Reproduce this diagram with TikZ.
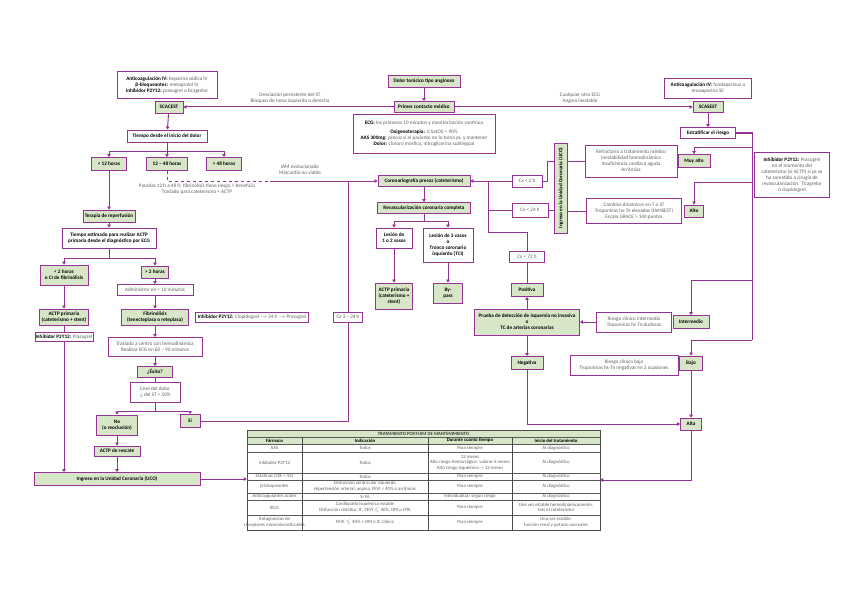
\documentclass[tikz,border=0pt]{standalone}
\usepackage{fontspec}
\setmainfont{Carlito}
\usetikzlibrary{arrows.meta}
\definecolor{plin}{RGB}{150,50,150}
\definecolor{gfon}{RGB}{216,230,200}
\definecolor{gtxt}{RGB}{95,95,95}
\newcommand{\resalta}[1]{\textbf{\color{black}#1}}
\newcommand{\letra}{\fontsize{5.2}{6.0}\selectfont}
\newcommand{\letrat}{\fontsize{4.8}{5.6}\selectfont}
\tikzset{
	caja/.style={draw=plin,line width=.8pt,inner sep=.6pt,align=center},
	gbox/.style={caja,fill=gfon,font=\letra\bfseries},
	wbox/.style={caja,fill=white,text=gtxt},
	wboxb/.style={caja,fill=white,font=\letra\bfseries},
	linea/.style={draw=plin,line width=1pt},
	flecha/.style={linea,-{Triangle[length=3pt,width=3.6pt]}},
	nota/.style={text=gtxt,align=center,inner sep=0pt},
	celda/.style={text=gtxt,align=center,inner sep=0pt,font=\letrat},
}
\begin{document}
\begin{tikzpicture}[x=1pt,y=-1pt,font=\letra]
	\useasboundingbox (0,0) rectangle (848,599);
	% SCACEST
	\node[wbox,minimum width=100,minimum height=27] (acoI) at (167,85) {\resalta{Anticoagulación IV:} heparina sódica IV\\\resalta{β-bloqueantes:} metoprolol IV\\\resalta{Inhibidor P2Y12:} prasugrel o ticagrelor};
	\node[gbox,minimum width=28,minimum height=12] (scacest) at (169,107) {SCACEST};
	\node[wboxb,minimum width=80,minimum height=12] (tiempo) at (167,136) {Tiempo desde el inicio del dolor};
	\node[gbox,minimum width=35,minimum height=13] (h12) at (109,164) {< 12 horas};
	\node[gbox,minimum width=41,minimum height=13] (h1248) at (167,164) {12 – 48 horas};
	\node[gbox,minimum width=35,minimum height=13] (h48) at (224,164) {> 48 horas};
	\node[gbox,minimum width=52,minimum height=12] (reperf) at (109,216) {Terapia de reperfusión};
	\node[wboxb,minimum width=94,minimum height=20] (testim) at (109,238) {Tiempo estimado para realizar ACTP\\primaria desde el diagnóstico por ECG};
	\node[gbox,minimum width=48,minimum height=20] (lt2) at (64,275) {< 2 horas\\o CI de fibrinólisis};
	\node[gbox,minimum width=27,minimum height=12] (gt2) at (155,272) {> 2 horas};
	\node[gbox,minimum width=49,minimum height=16] (actp1) at (64,317) {ACTP primaria\\(cateterismo + stent)};
	\node[wbox,minimum width=58,minimum height=9] (p2yA) at (64,337) {\resalta{Inhibidor P2Y12:} Prasugrel};
	\node[wbox,minimum width=76,minimum height=11] (admin) at (155,290) {Administrar en < 10 minutos};
	\node[gbox,minimum width=67,minimum height=16] (fibri) at (155,317) {Fibrinólisis\\(tenecteplasa o reteplasa)};
	\node[wbox,minimum width=113,minimum height=10] (p2yB) at (252,317) {\resalta{Inhibidor P2Y12:} Clopidogrel $\rightarrow$ 24 h $\rightarrow$ Prasugrel};
	\node[wbox,minimum width=94,minimum height=19] (traslado) at (155,347) {Traslado a centro con hemodinámica\\Realizar ECG en 60 – 90 minutos};
	\node[gbox,minimum width=35,minimum height=11] (exito) at (155,372) {¿Éxito?};
	\node[wbox,minimum width=50,minimum height=20] (cese) at (155,392) {Cese del dolor\\$\downarrow$ del ST > 50\%};
	\node[gbox,minimum width=41,minimum height=20] (no) at (117,425) {No\\(o reoclusión)};
	\node[gbox,minimum width=20,minimum height=13] (si) at (190,421) {Sí};
	\node[gbox,minimum width=46,minimum height=10] (rescate) at (117,451) {ACTP de rescate};
	\node[gbox,minimum width=166,minimum height=13] (uco) at (117,479) {Ingreso en la Unidad Coronaria (UCO)};
	\node[wbox,minimum width=29,minimum height=10] (cx324) at (348,317) {Cx 3 – 24 h};
	% centro
	\node[gbox,minimum width=72,minimum height=12] (dolor) at (424,81) {Dolor torácico tipo anginoso};
	\node[gbox,minimum width=60,minimum height=11] (pcm) at (424,107) {Primer contacto médico};
	\node[wbox,minimum width=142,minimum height=39] (medidas) at (424,134) {\resalta{ECG:} los primeros 10 minutos y monitorización continua\\[3pt]\resalta{Oxigenoterapia:} si SatO2 < 90\%\\\resalta{AAS 300mg:} precoz si el paciente no lo toma ya, y mantener\\\resalta{Dolor:} cloruro mórfico, nitroglicerina sublingual};
	\node[gbox,minimum width=92,minimum height=11] (corop) at (424,181) {Coronariografía precoz (cateterismo)};
	\node[gbox,minimum width=93,minimum height=11] (revasc) at (424,208) {Revascularización coronaria completa};
	\node[wboxb,minimum width=36,minimum height=20] (les12) at (394,238) {Lesión de\\1 o 2 vasos};
	\node[wboxb,minimum width=50,minimum height=34] (les3) at (448,245) {Lesión de 3 vasos\\o\\Tronco coronario\\izquierdo (TCI)};
	\node[gbox,minimum width=37,minimum height=26] (actp2) at (394,296) {ACTP primaria\\(cateterismo +\\stent)};
	\node[gbox,minimum width=29,minimum height=20] (bypass) at (448,293) {By-\\pass};
	% SCASEST
	\node[wbox,minimum width=87,minimum height=20] (acoD) at (708,88) {\resalta{Anticoagulación IV:} fondaparinux o\\enoxaparina SC};
	\node[gbox,minimum width=30,minimum height=11] (scasest) at (708,107) {SCASEST};
	\node[wboxb,minimum width=55,minimum height=11] (estrat) at (708,133) {Estratificar el riesgo};
	\node[wbox,minimum width=75,minimum height=45] (p2yC) at (792,175) {\resalta{Inhibidor P2Y12:} Prasugrel\\en el momento del\\cateterismo (si ACTP) si ya se\\ha sometido a cirugía de\\revascularización. Ticagrelor\\o clopidogrel};
	\node[gbox,minimum width=32,minimum height=13] (muyalto) at (694,161) {Muy alto};
	\node[wbox,minimum width=92,minimum height=32] (refr) at (631,161) {Refractario a tratamiento médico\\Inestabilidad hemodinámica\\Insuficiencia cardíaca aguda\\Arritmias};
	\node[gbox,minimum width=13,minimum height=90] (ucov) at (561,188) {\rotatebox{90}{Ingreso en la Unidad Coronaria (UCO)}};
	\node[gbox,minimum width=19,minimum height=12] (alto) at (694,211) {Alto};
	\node[wbox,minimum width=95,minimum height=25] (critalto) at (634,211) {Cambios dinámicos en T o ST\\Troponinas hs-Tn elevadas (IAMSEST)\\Escala GRACE > 140 puntos};
	\node[wbox,minimum width=30,minimum height=12] (cx2) at (527,181) {Cx < 2 h};
	\node[wbox,minimum width=36,minimum height=14] (cx24) at (530,210) {Cx < 24 h};
	\node[wbox,minimum width=35,minimum height=11] (cx72) at (527,257) {Cx < 72 h};
	\node[gbox,minimum width=32,minimum height=13] (positiva) at (527,290) {Positiva};
	\node[gbox,minimum width=105,minimum height=26] (prueba) at (527,322) {Prueba de detección de isquemia no invasiva\\o\\TC de arterias coronarias};
	\node[gbox,minimum width=32,minimum height=13] (negativa) at (527,363) {Negativa};
	\node[gbox,minimum width=36,minimum height=13] (interm) at (691,322) {Intermedio};
	\node[wbox,minimum width=75,minimum height=20] (critint) at (634,322) {Riesgo clínico intermedio\\Troponinas hs-Tn dudosas};
	\node[gbox,minimum width=23,minimum height=14] (bajo) at (691,363) {Bajo};
	\node[wbox,minimum width=108,minimum height=20] (critbajo) at (624,365) {Riesgo clínico bajo\\Troponinas hs-Tn negativas en 2 ocasiones};
	\node[gbox,minimum width=21,minimum height=12] (alta) at (691,424) {Alta};
	% textos sobre las lineas
	\node[nota] (lbSTe) at (290,98) {Desviación persistente del ST\\Bloqueo de rama izquierda o derecha};
	\node[nota] (lbSTn) at (580,98) {Cualquier otro ECG\\Angina inestable};
	\node[nota] (lbIAM) at (300,170) {IAM evolucionado\\Miocardio no viable};
	\node[nota] (lbPas) at (197,189) {Pasadas 12 h a 48 h: fibrinólisis tiene riesgo > beneficio\\Traslado para cateterismo + ACTP};
	\path (167,151) coordinate (b1) (109,258) coordinate (b2) (155,411) coordinate (b3) (424,221) coordinate (b4)
		(270,181) coordinate (jD) (348,181) coordinate (jA) (488,181) coordinate (jB) (488,232) coordinate (jC)
		(752,133) coordinate (r0) (752,147) coordinate (r1) (752,182) coordinate (r2) (752,280) coordinate (r3) (752,340) coordinate (r4);
	% conectores
	\draw[flecha] (pcm) -- (scacest);
	\draw[flecha] (pcm) -- (scasest);
	\draw[flecha] (dolor) -- (pcm);
	\draw[flecha] (scacest) -- (tiempo);
	\draw[linea] (tiempo) -- (b1);
	\draw[flecha] (b1) -| (h12.north);
	\draw[flecha] (b1) -- (h1248.north);
	\draw[flecha] (b1) -| (h48.north);
	\draw[linea,dashed] (h1248.south) |- (jD);
	\draw[flecha] (jD) -- (corop);
	\draw[flecha] (h12) -- (reperf);
	\draw[flecha] (reperf) -- (testim);
	\draw[linea] (testim) -- (b2);
	\draw[flecha] (b2) -| (lt2.north);
	\draw[flecha] (b2) -| (gt2.north);
	\draw[flecha] (lt2) -- (actp1);
	\draw[linea] (actp1) -- (p2yA);
	\draw[flecha] (p2yA.south) -- (p2yA.south |- uco.north);
	\foreach \a/\b in {gt2/admin,admin/fibri,fibri/traslado,traslado/exito,no/rescate,rescate/uco}
		\draw[flecha] (\a) -- (\b);
	\draw[linea] (exito) -- (cese);
	\draw[linea] (cese) -- (b3);
	\draw[flecha] (b3) -| (no.north);
	\draw[flecha] (b3) -| (si.north);
	\draw[linea] (si) -| (cx324);
	\draw[linea] (cx324) -- (jA);
	\draw[flecha] (corop) -- (revasc);
	\draw[linea] (revasc) -- (b4);
	\draw[flecha] (b4) -| (les12.north);
	\draw[flecha] (b4) -| (les3.north);
	\draw[flecha] (les12) -- (actp2);
	\draw[flecha] (les3) -- (bypass);
	\draw[flecha] (scasest) -- (estrat);
	\draw[linea] (estrat) -- (r0) -- (r4);
	\draw[flecha] (r1) -| (muyalto.north);
	\draw[flecha] (r2) -| (alto.north);
	\draw[flecha] (r3) -| (interm.north);
	\draw[flecha] (r4) -| (bajo.north);
	\draw[linea] (refr) -- (refr -| ucov.east);
	\draw[linea] (critalto) -- (critalto -| ucov.east);
	\draw[linea] (ucov.west |- refr.west) -- ++(-7,0) |- (cx2);
	\draw[linea] (ucov.west |- cx24.east) -- (cx24);
	\draw[flecha] (cx2) -- (corop);
	\draw[linea] (cx24) -- (cx24 -| jB);
	\draw[linea] (jB) -- (jC) -| (cx72);
	\draw[linea] (cx72) -- (positiva);
	\draw[flecha] (prueba) -- (positiva);
	\draw[flecha] (prueba) -- (negativa);
	\draw[flecha] (negativa) |- (alta);
	\draw[flecha] (critint) -- (prueba);
	\draw[flecha] (bajo) -- (alta);
	% tabla de tratamiento
	\fill[gfon] (247,430) rectangle (600,444);
	\node[draw=black!70,line width=.5pt,minimum width=353,minimum height=100,inner sep=0] (tabla) at (423.5,480) {};
	\foreach \y/\g in {437/.3,444/.5,452/.8,473/.8,480/.3,493/.8,500/.3,515/.8}
		\draw[black!65,line width=\g pt] (247,\y) -- (600,\y);
	\foreach \x/\g in {302/.3,428/.3,512/.9}
		\draw[black!70,line width=\g pt] (\x,437) -- (\x,530);
	\node[celda,text=black] (tTit) at (423.5,433.5) {TRATAMIENTO POST-IAM DE MANTENIMIENTO};
	\foreach \x/\t in {274.5/Fármaco,365/Indicación,470/Durante cuánto tiempo,556/Inicio del tratamiento}
		\node[celda,text=black,font=\letrat\bfseries] at (\x,440.5) {\t};
	\foreach \y/\a/\b/\c/\d in {
		448/AAS/Todos/Para siempre/Al diagnóstico,
		462.5/Inhibidor P2Y12/Todos/{12 meses\\Alto riesgo hemorrágico: valorar 6 meses\\Alto riesgo isquémico: > 12 meses}/Al diagnóstico,
		476.5/{Estatinas (LDL < 55)}/Todos/Para siempre/Al diagnóstico,
		486.5/β-bloqueantes/{Disfunción ventricular izquierda\\Hipertensión arterial, angina, FEVI < 40\% o arritmias}/Para siempre/Al diagnóstico,
		496.5/Anticoagulantes orales/Si FA/Individualizar según riesgo/Al diagnóstico,
		507.5/IECA/{Cardiopatía isquémica estable\\Disfunción sistólica, IC, FEVI $\leq$ 40\%, DM o HTA}/Para siempre/{Una vez estable hemodinámicamente,\\tras el cateterismo},
		522.5/{Antagonistas de\\receptores mineralocorticoides}/{FEVI $\leq$ 40\% + DM o IC clínica}/Para siempre/{Una vez estable,\\función renal y potasio normales}}{
		\node[celda] at (274.5,\y) {\a};
		\node[celda] at (365,\y) {\b};
		\node[celda] at (470,\y) {\c};
		\node[celda] at (556,\y) {\d};
	}
	\draw[flecha] (uco) -- (uco -| tabla.west);
	\draw[flecha] (alta) |- (tabla.east);
\end{tikzpicture}
\end{document}
